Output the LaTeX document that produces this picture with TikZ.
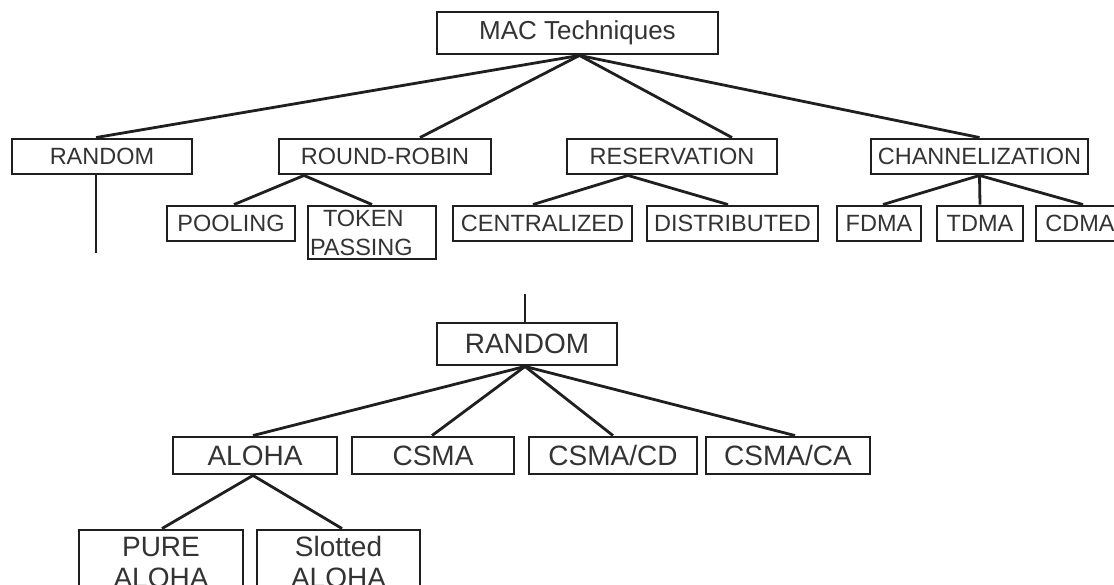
\documentclass[tikz,border=0pt]{standalone}
\usepackage{fontspec}
\setmainfont{Liberation Sans}
\begin{document}
\begin{tikzpicture}[x=1pt,y=-1pt,
  ink/.style={draw=black!88, line width=2.9pt},
  box/.style={ink, rectangle, inner sep=0pt, text=black!80,
    font=\fontsize{23.5}{26}\selectfont},
  topbox/.style={box, minimum height=35pt},
  bigbox/.style={box, font=\fontsize{28}{31}\selectfont},
  link/.style={draw=black!88, line width=2.8pt}
]
\useasboundingbox (0,0) rectangle (1114,584);
\fill[white] (0,0) rectangle (1114,584);
\clip (0,0) rectangle (1114,584);

% ---- upper tree: MAC techniques ----
\node[box, minimum width=281pt, minimum height=42pt,
      font=\fontsize{26}{28}\selectfont] (mac) at (577.5,33) {MAC Techniques};

\node[topbox, minimum width=180pt] (rnd)  at (102,156.5)   {RANDOM};
\node[topbox, minimum width=212pt] (rr)   at (385,156.5)   {ROUND-ROBIN};
\node[topbox, minimum width=210pt] (res)  at (672,156.5)   {RESERVATION};
\node[topbox, minimum width=217pt] (chan) at (979.5,156.5) {CHANNELIZATION};

\node[topbox, minimum width=128pt] (pool) at (231,223.5) {POOLING};
\node[box, minimum height=53pt, text width=124pt, inner xsep=2pt, align=left,
      font=\fontsize{23.5}{29}\selectfont] (token) at (372,232.5)
      {\hspace*{13pt}TOKEN\\PASSING};
\node[topbox, minimum width=179pt] (cent) at (542.5,223.5) {CENTRALIZED};
\node[topbox, minimum width=171pt] (dist) at (732.5,223.5) {DISTRIBUTED};
\node[topbox, minimum width=84pt]  (fdma) at (879,223.5)   {FDMA};
\node[topbox, minimum width=86pt]  (tdma) at (980,223.5)   {TDMA};
\node[topbox, minimum width=88pt]  (cdma) at (1080,223.5)  {CDMA};

\draw[link] ([xshift=2pt]mac.south) -- ([xshift=-6pt]rnd.north);
\draw[link] ([xshift=2pt]mac.south) -- ([xshift=35pt]rr.north);
\draw[link] ([xshift=2pt]mac.south) -- ([xshift=60pt]res.north);
\draw[link] ([xshift=2pt]mac.south) -- (chan.north);

\draw[link] ([xshift=-81pt]rr.south) -- ([xshift=3pt]pool.north);
\draw[link] ([xshift=-81pt]rr.south) -- (token.north);

\draw[link] ([xshift=-44pt]res.south) -- ([xshift=-9.5pt]cent.north);
\draw[link] ([xshift=-44pt]res.south) -- ([xshift=-4.5pt]dist.north);

\draw[link] (chan.south) -- ([xshift=4pt]fdma.north);
\draw[link] (chan.south) -- (tdma.north);
\draw[link] (chan.south) -- ([xshift=3pt]cdma.north);

\coordinate (rndend) at (96,253);
\draw[link] ([xshift=-6pt]rnd.south) -- (rndend);

% ---- lower tree: random access ----
\coordinate (stubtop) at (525,294);
\node[bigbox, minimum width=180pt, minimum height=42pt] (rnd2) at (527,344) {RANDOM};

\node[bigbox, minimum width=164pt, minimum height=37pt] (aloha)  at (255,455.5) {ALOHA};
\node[bigbox, minimum width=162pt, minimum height=37pt] (csma)   at (433,455.5) {CSMA};
\node[bigbox, minimum width=168pt, minimum height=37pt] (csmacd) at (613,455.5) {CSMA/CD};
\node[bigbox, minimum width=164pt, minimum height=37pt] (csmaca) at (788,455.5) {CSMA/CA};

\node[bigbox, minimum width=164pt, minimum height=64pt, align=center] (pure) at (161,562)   {PURE\\ALOHA};
\node[bigbox, minimum width=163pt, minimum height=64pt, align=center] (slot) at (338.5,562) {Slotted\\ALOHA};

\draw[link] (stubtop) -- ([xshift=-2pt]rnd2.north);

\draw[link] ([xshift=-2pt]rnd2.south) -- ([xshift=-2pt]aloha.north);
\draw[link] ([xshift=-2pt]rnd2.south) -- ([xshift=-1pt]csma.north);
\draw[link] ([xshift=-2pt]rnd2.south) -- (csmacd.north);
\draw[link] ([xshift=-2pt]rnd2.south) -- ([xshift=7pt]csmaca.north);

\draw[link] ([xshift=-2pt]aloha.south) -- ([xshift=1pt]pure.north);
\draw[link] ([xshift=-2pt]aloha.south) -- ([xshift=3.5pt]slot.north);
\end{tikzpicture}
\end{document}
